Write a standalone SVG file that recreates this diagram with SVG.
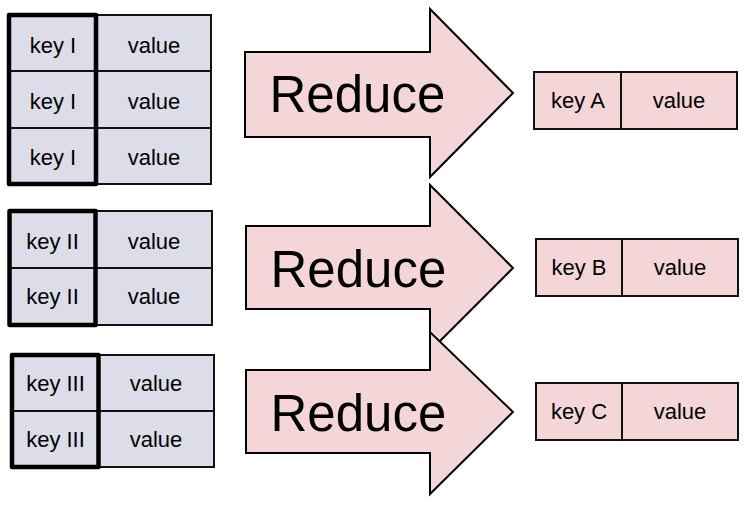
<svg xmlns="http://www.w3.org/2000/svg" width="750" height="513" viewBox="0 0 750 513">
<style>
.cell{fill:#dcdde9;stroke:#111;stroke-width:2}
.key{fill:none;stroke:#000;stroke-width:4.5;stroke-linejoin:round}
.res{fill:#f4d5d8;stroke:#111;stroke-width:2}
.arrow{fill:#f4d5d8;stroke:#000;stroke-width:2;stroke-linejoin:miter}
text{font-family:"Liberation Sans",Arial,sans-serif;fill:#000;text-anchor:middle}
.t{font-size:22px}
.big{font-size:51px;text-anchor:start}
</style>
<rect width="750" height="513" fill="#fff"/>
<g id="group-key-I">
<rect class="cell" x="9" y="15" width="87" height="56"/>
<rect class="cell" x="96" y="15" width="115" height="56"/>
<rect class="cell" x="9" y="71" width="87" height="57"/>
<rect class="cell" x="96" y="71" width="115" height="57"/>
<rect class="cell" x="9" y="128" width="87" height="56"/>
<rect class="cell" x="96" y="128" width="115" height="56"/>
<rect class="key" x="9" y="15" width="87" height="169"/>
<text class="t" x="53" y="52.5">key I</text><text class="t" x="154" y="52.5">value</text>
<text class="t" x="53" y="108.5">key I</text><text class="t" x="154" y="108.5">value</text>
<text class="t" x="53" y="165">key I</text><text class="t" x="154" y="165">value</text>
</g>
<g id="group-key-II">
<rect class="cell" x="9.5" y="211" width="86" height="57"/>
<rect class="cell" x="95.5" y="211" width="116.5" height="57"/>
<rect class="cell" x="9.5" y="268" width="86" height="57"/>
<rect class="cell" x="95.5" y="268" width="116.5" height="57"/>
<rect class="key" x="9.5" y="211" width="86" height="114"/>
<text class="t" x="52.5" y="248.5">key II</text><text class="t" x="154" y="248.5">value</text>
<text class="t" x="52.5" y="303.5">key II</text><text class="t" x="154" y="303.5">value</text>
</g>
<g id="group-key-III">
<rect class="cell" x="12" y="355" width="86.5" height="56"/>
<rect class="cell" x="98.5" y="355" width="115.5" height="56"/>
<rect class="cell" x="12" y="411" width="86.5" height="56"/>
<rect class="cell" x="98.5" y="411" width="115.5" height="56"/>
<rect class="key" x="12" y="355" width="86.5" height="112"/>
<text class="t" x="55.5" y="391">key III</text><text class="t" x="156" y="391">value</text>
<text class="t" x="55.5" y="447">key III</text><text class="t" x="156" y="447">value</text>
</g>
<g id="reduce-1">
<polygon class="arrow" points="245,52 430,52 430,9 513,93 430,177 430,137 245,137"/>
<text class="big" x="269.5" y="112">Reduce</text>
</g>
<g id="reduce-2">
<polygon class="arrow" points="246,226 430,226 430,185 513,268 430,351 430,309 246,309"/>
<text class="big" x="270.5" y="287">Reduce</text>
</g>
<g id="reduce-3">
<polygon class="arrow" points="246,370 430,370 430,332 513,412 430,494 430,453 246,453"/>
<text class="big" x="270.5" y="431">Reduce</text>
</g>
<g id="result-A">
<rect class="res" x="534" y="72" width="87" height="57"/>
<rect class="res" x="621" y="72" width="116" height="57"/>
<text class="t" x="578" y="108">key A</text><text class="t" x="679" y="108">value</text>
</g>
<g id="result-B">
<rect class="res" x="536" y="239" width="86" height="57"/>
<rect class="res" x="622" y="239" width="116" height="57"/>
<text class="t" x="579" y="275">key B</text><text class="t" x="680" y="275">value</text>
</g>
<g id="result-C">
<rect class="res" x="536" y="383" width="86" height="57"/>
<rect class="res" x="622" y="383" width="116" height="57"/>
<text class="t" x="579" y="419">key C</text><text class="t" x="680" y="419">value</text>
</g>
<g id="connectors"/>
</svg>
